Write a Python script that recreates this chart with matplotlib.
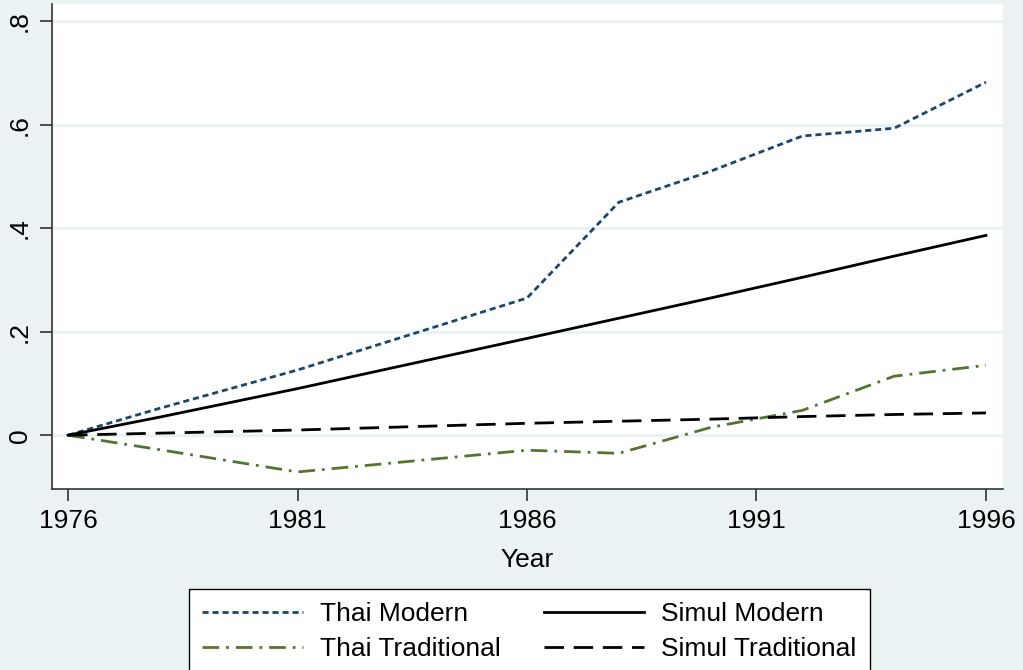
import matplotlib.pyplot as plt

# Data
years = [1976, 1978, 1981, 1986, 1988, 1990, 1992, 1994, 1996]
thai_modern = [0.0, 0.052, 0.126, 0.265, 0.450, 0.510, 0.578, 0.593, 0.682]
thai_trad = [0.0, -0.028, -0.071, -0.029, -0.035, 0.015, 0.048, 0.114, 0.135]
simul_modern = [0.0, 0.035, 0.090, 0.187, 0.226, 0.265, 0.305, 0.346, 0.386]
simul_trad = [0.0, 0.004, 0.010, 0.023, 0.027, 0.031, 0.036, 0.040, 0.043]

xticks = [1976, 1981, 1986, 1991, 1996]
yticks = [0, 0.2, 0.4, 0.6, 0.8]
ylabels = ['0', '.2', '.4', '.6', '.8']

bg = '#eaf2f3'
navy = '#1a476f'
green = '#55752f'

plt.rcParams['font.family'] = ['Liberation Sans', 'DejaVu Sans']

fig = plt.figure(figsize=(10.23, 6.70), dpi=100, facecolor=bg)
ax = fig.add_axes([0.0508, 0.2701, 0.9296, 0.7239])
ax.set_facecolor('white')

# Lines
l1, = ax.plot(years, thai_modern, color=navy, lw=2.0, linestyle=(0, (2.2, 1.4)), label='Thai Modern')
l2, = ax.plot(years, simul_modern, color='black', lw=2.0, linestyle='-', label='Simul Modern')
l3, = ax.plot(years, thai_trad, color=green, lw=2.0, linestyle=(0, (6, 2.5, 1, 2.5)), label='Thai Traditional')
l4, = ax.plot(years, simul_trad, color='black', lw=2.0, linestyle=(0, (7, 3.5)), label='Simul Traditional')

ax.set_xlim(1975.65, 1996.37)
ax.set_ylim(-0.104, 0.833)

ax.set_xticks(xticks)
ax.set_yticks(yticks)
ax.set_yticklabels(ylabels, rotation=90, va='center')
ax.tick_params(axis='both', labelsize=19, length=8.5, width=1.2, color='#333333')
ax.tick_params(axis='x', pad=6)
ax.tick_params(axis='y', pad=6)

# grid
ax.grid(axis='y', color=bg, linewidth=2.2)
ax.set_axisbelow(True)

for s in ['top', 'right']:
    ax.spines[s].set_visible(False)
for s in ['left', 'bottom']:
    ax.spines[s].set_color('#333333')
    ax.spines[s].set_linewidth(1.2)

ax.set_xlabel('Year', fontsize=19, labelpad=11)

# legend: two rows, modern on top
leg = fig.legend(handles=[l1, l3, l2, l4], ncol=2, loc='center',
                 bbox_to_anchor=(0.5176, 0.0575), fontsize=19,
                 frameon=True, fancybox=False, edgecolor='black',
                 handlelength=3.8, columnspacing=1.65, handletextpad=0.65,
                 labelspacing=0.42, borderpad=0.5, borderaxespad=0)
leg.get_frame().set_linewidth(1.0)
leg.get_frame().set_facecolor('white')
leg.get_frame().set_alpha(1)

fig.savefig('out.png', dpi=100, facecolor=bg)
